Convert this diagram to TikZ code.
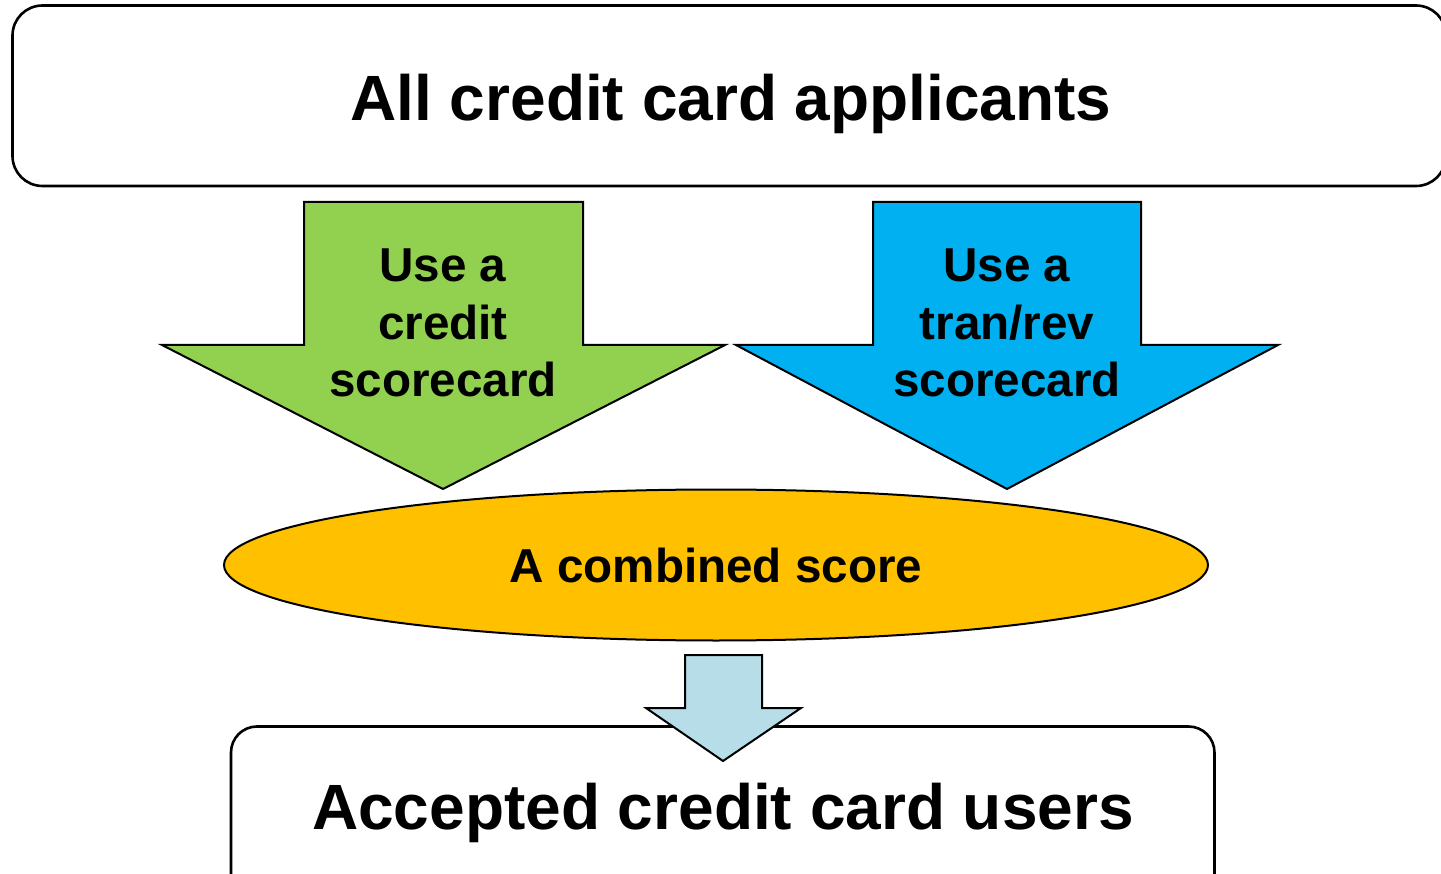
\documentclass[tikz,border=0pt]{standalone}
\usepackage{fontspec}
\setmainfont{Liberation Sans}
\usetikzlibrary{shapes.geometric}
\definecolor{cardgreen}{HTML}{92D050}
\definecolor{cardblue}{HTML}{00B0F0}
\definecolor{scoreorange}{HTML}{FFC000}
\definecolor{paleblue}{HTML}{B7DEE8}
\tikzset{
  panel/.style={draw=black, line width=2.6pt, rounded corners=30pt, fill=white},
  bigarrow/.style={draw=black, line width=2pt, line join=miter},
  bigtext/.style={font=\fontsize{64}{70}\selectfont\bfseries, inner sep=0pt, anchor=base},
  arrowtext/.style={font=\fontsize{47.6}{57.5}\selectfont\bfseries, align=center, inner sep=0pt, anchor=base},
}
\begin{document}
\begin{tikzpicture}[x=1pt, y=-1pt]
\useasboundingbox (0,0) rectangle (1441,874);

% applicants panel
\draw[panel] (12.5,5.5) rectangle (1446,186);
\node[bigtext] (all) at (731,121) {All credit card applicants};

% credit scorecard arrow
\draw[bigarrow, fill=cardgreen] (304,202) -- (583,202) -- (583,345) -- (725,345)
  -- (443,489) -- (162,345) -- (304,345) -- cycle;
\node[arrowtext] (credit) at (443,397) {Use a\\credit\\scorecard};

% tran/rev scorecard arrow
\draw[bigarrow, fill=cardblue] (873,202) -- (1141,202) -- (1141,345) -- (1278,345)
  -- (1007,489) -- (736,345) -- (873,345) -- cycle;
\node[arrowtext] (tranrev) at (1007,397) {Use a\\tran/rev\\scorecard};

% combined score
\node[ellipse, draw=black, line width=2pt, fill=scoreorange, minimum width=984pt,
  minimum height=151pt, inner sep=0pt] (combined) at (716,565) {};
\node[arrowtext] (combtext) at (716,582) {A combined score};

% accepted users panel
\draw[panel, rounded corners=26pt] (231,726.5) rectangle (1214.5,910);
\node[bigtext] (accepted) at (723,829) {Accepted credit card users};

% final arrow
\draw[bigarrow, fill=paleblue] (685,655) -- (762,655) -- (762,708) -- (801,708)
  -- (723,761) -- (646,708) -- (685,708) -- cycle;
\end{tikzpicture}
\end{document}
